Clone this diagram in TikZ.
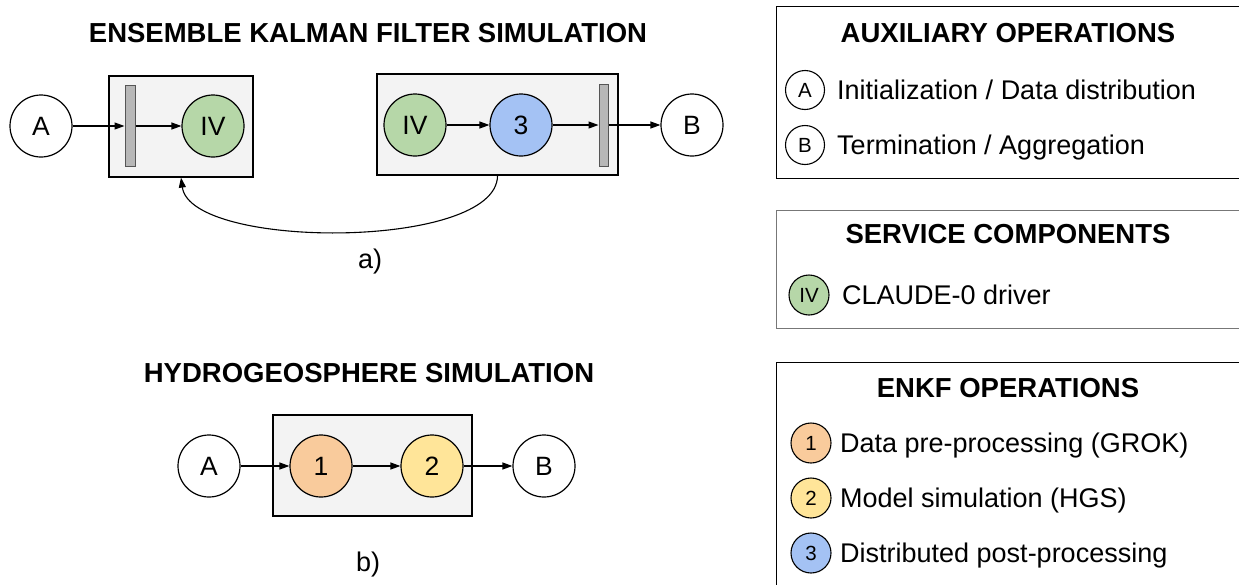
\documentclass[tikz,border=0pt]{standalone}
\usepackage{fontspec}
\setmainfont{Liberation Sans}
\usetikzlibrary{arrows.meta}

\definecolor{groupfill}{HTML}{F3F3F3}
\definecolor{barfill}{HTML}{B7B7B7}
\definecolor{bardraw}{HTML}{555555}
\definecolor{drivergreen}{HTML}{B6D7A8}
\definecolor{postblue}{HTML}{A4C2F4}
\definecolor{preorange}{HTML}{F9CB9C}
\definecolor{modelyellow}{HTML}{FFE599}
\definecolor{keygray}{HTML}{777777}

\begin{document}
\begin{tikzpicture}[x=1pt,y=-1pt,
  proc/.style={circle, draw, line width=1.2pt, minimum size=62pt, inner sep=0pt,
               font=\fontsize{26.5}{26.5}\selectfont},
  group/.style={rectangle, draw, line width=1.2pt, fill=groupfill, inner sep=0pt},
  sync/.style={rectangle, draw=bardraw, fill=barfill, line width=1pt, inner sep=0pt,
               minimum width=10pt, minimum height=81pt},
  flow/.style={-{Triangle[length=10pt,width=7pt]}, line width=1.2pt},
  keyc/.style={circle, draw, line width=1.1pt, minimum size=39pt, inner sep=0pt,
               font=\fontsize{20.5}{20.5}\selectfont},
  legendbox/.style={rectangle, draw, line width=1.2pt, inner sep=0pt, anchor=north west},
  heading/.style={inner sep=0pt, anchor=base, font=\bfseries\fontsize{27.5}{27.5}\selectfont},
  item/.style={inner sep=0pt, anchor=base west, font=\fontsize{27}{27}\selectfont},
  caption/.style={inner sep=0pt, font=\fontsize{27}{27}\selectfont}]

\useasboundingbox (0,0) rectangle (1239,584);

% ---------- a) ensemble Kalman filter ----------
\node[heading] (titleA) at (368,42) {ENSEMBLE KALMAN FILTER SIMULATION};

\node[group, minimum width=144pt, minimum height=101pt] (boxA1) at (181,126.5) {};
\node[group, minimum width=241pt, minimum height=101pt] (boxA2) at (497.5,124.5) {};

\node[proc] (startA) at (41,126) {A};
\node[sync] (barA1) at (130,126) {};
\node[proc, fill=drivergreen] (drvA1) at (213,126) {IV};

\node[proc, fill=drivergreen] (drvA2) at (415,125) {IV};
\node[proc, fill=postblue] (postA) at (521,125) {3};
\node[sync, minimum width=9pt, minimum height=82pt] (barA2) at (603.5,125) {};
\node[proc] (endA) at (692,125) {B};

\draw[flow] (startA) -- (barA1);
\draw[flow] (barA1) -- (drvA1);
\draw[flow] (drvA2) -- (postA);
\draw[flow] (postA) -- (barA2);
\draw[flow] (barA2) -- (endA);

% loop back to the next assimilation cycle
\draw[flow, line width=1.1pt] (boxA2.south) .. controls (497.5,250) and (191,250) .. (boxA1.south);

\node[caption] (capA) at (370,262) {a)};

% ---------- b) HydroGeoSphere ----------
\node[heading] (titleB) at (369,382) {HYDROGEOSPHERE SIMULATION};

\node[group, minimum width=199pt, minimum height=101pt] (boxB) at (372.5,465.5) {};
\node[proc] (startB) at (209,466) {A};
\node[proc, fill=preorange] (preB) at (321,466) {1};
\node[proc, fill=modelyellow] (modelB) at (432,466) {2};
\node[proc] (endB) at (544,466) {B};

\draw[flow] (startB) -- (preB);
\draw[flow] (preB) -- (modelB);
\draw[flow] (modelB) -- (endB);

\node[caption] (capB) at (368,565) {b)};

% ---------- legend ----------
\node[legendbox, minimum width=470pt, minimum height=172pt] (legAux) at (776,6) {};
\node[heading] (hAux) at (1008,42) {AUXILIARY OPERATIONS};
\node[keyc] (kA) at (805,90) {A};
\node[item] (tA) at (837,99.7) {Initialization / Data distribution};
\node[keyc] (kB) at (805,145) {B};
\node[item] (tB) at (837,154.7) {Termination / Aggregation};

\node[legendbox, draw=keygray, minimum width=470pt, minimum height=118pt] (legSvc) at (776,210) {};
\node[heading] (hSvc) at (1008,243) {SERVICE COMPONENTS};
\node[keyc, fill=drivergreen, minimum size=40pt] (kIV) at (809,295) {IV};
\node[item] (tIV) at (842,304.7) {CLAUDE-0 driver};

\node[legendbox, minimum width=470pt, minimum height=240pt] (legOps) at (776,362) {};
\node[heading] (hOps) at (1008,397) {ENKF OPERATIONS};
\node[keyc, fill=preorange, minimum size=40pt] (k1) at (811,443) {1};
\node[item] (t1) at (840,452.7) {Data pre-processing (GROK)};
\node[keyc, fill=modelyellow, minimum size=40pt] (k2) at (811,498) {2};
\node[item] (t2) at (840,507.7) {Model simulation (HGS)};
\node[keyc, fill=postblue, minimum size=40pt] (k3) at (811,553) {3};
\node[item] (t3) at (840,562.7) {Distributed post-processing};

\end{tikzpicture}
\end{document}
